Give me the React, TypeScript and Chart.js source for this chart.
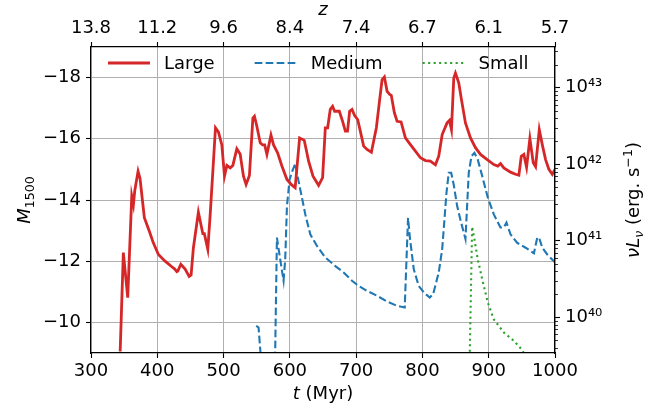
import React, { useEffect, useRef } from 'react';
import { Chart, registerables } from 'chart.js';

Chart.register(...registerables);

// ---------------- data ----------------
const largeT = [344, 348.8, 355.4, 361.5, 364, 366, 371, 374, 377, 380.5, 388, 394, 401.7, 411.8, 421.9, 426, 429.5, 431, 435.5, 442, 448, 451, 454.5, 462, 468.7, 471, 476.2, 479.7, 484, 487.8, 492.3, 497.4, 501.4, 505, 510, 514, 520, 525, 530, 534, 539, 544.2, 546.6, 550.2, 555.3, 558.8, 562, 565.4, 571.5, 575.4, 581.5, 588, 595.6, 602, 608, 614.7, 621.7, 628.3, 634.9, 643.4, 649.4, 653.5, 657, 661, 664.5, 667.5, 674.6, 679.6, 683.7, 687, 690.2, 693.8, 697.7, 702.3, 706.3, 711.3, 716.4, 723, 730.5, 735.5, 739.1, 742.6, 746.7, 750.6, 753, 757.7, 761.8, 767.8, 774.3, 781.9, 789.4, 797, 804.5, 812, 819.6, 824.6, 829.8, 837.2, 840.8, 843.8, 847.3, 849.8, 854.8, 858.9, 864.9, 872.5, 880, 887.6, 897.7, 907.7, 913.8, 917.8, 922.8, 932.9, 940.5, 945.5, 949.1, 953, 957.1, 962.1, 967.2, 970.7, 976.3, 980.8, 985.8, 990.8, 995.9, 1000];
const largeM = [-9.05, -12.28, -10.81, -14.13, -13.85, -14.3, -14.94, -14.7, -14.1, -13.42, -12.98, -12.6, -12.22, -12.0, -11.82, -11.75, -11.66, -11.68, -11.9, -11.74, -11.5, -11.55, -12.44, -13.6, -12.9, -12.9, -12.39, -13.48, -15.0, -16.36, -16.22, -15.8, -14.78, -15.13, -15.05, -15.13, -15.67, -15.5, -14.78, -14.51, -14.8, -16.68, -16.74, -16.41, -15.87, -15.8, -15.8, -15.49, -16.12, -15.8, -15.54, -15.11, -14.67, -14.51, -14.4, -16.03, -15.95, -15.27, -14.78, -14.48, -14.73, -16.36, -16.36, -16.96, -17.06, -16.9, -16.9, -16.57, -16.25, -16.25, -16.9, -16.96, -16.76, -16.63, -16.25, -15.76, -15.65, -15.56, -16.36, -17.28, -17.93, -18.02, -17.55, -17.45, -17.42, -16.85, -16.57, -16.55, -16.03, -15.81, -15.6, -15.38, -15.29, -15.27, -15.15, -15.43, -16.14, -16.52, -16.6, -16.3, -17.99, -18.15, -17.83, -17.28, -16.52, -16.03, -15.71, -15.49, -15.32, -15.16, -15.11, -15.19, -15.05, -14.91, -14.84, -14.81, -15.43, -15.49, -15.07, -16.01, -15.22, -15.09, -16.3, -15.81, -15.32, -15.0, -14.84, -15.0];

const mediumT = [549.3, 552.8, 557.5, 577.5, 580.5, 583, 590.5, 593, 595.6, 599.6, 604.7, 608.2, 611.6, 618.2, 623.3, 630.8, 640.9, 653.5, 668.6, 681.2, 693.8, 701.3, 716.4, 731.5, 746.7, 761.8, 773.3, 778.3, 780.8, 786.9, 794.4, 802, 811, 816.1, 824.6, 829.8, 836.3, 839.7, 843.4, 847.3, 852.4, 858.4, 864.9, 869.9, 874, 878.5, 883.5, 890.2, 898.6, 907.7, 917.8, 922.8, 926.8, 932.9, 943, 955.6, 968.2, 973.2, 976, 980.8, 988.3, 998.3, 1000];
const mediumM = [-9.89, -9.83, -8.5, -8.5, -12.77, -12.4, -11.36, -12.06, -13.8, -14.67, -15.0, -15.19, -14.78, -14.08, -13.53, -12.88, -12.5, -12.12, -11.84, -11.63, -11.36, -11.23, -11.03, -10.87, -10.68, -10.54, -10.49, -13.42, -12.82, -11.74, -11.19, -10.98, -10.81, -10.92, -11.63, -12.39, -14.24, -14.89, -14.89, -14.49, -13.8, -13.26, -12.73, -14.89, -15.43, -15.54, -15.32, -14.78, -14.08, -13.53, -13.1, -13.1, -13.26, -12.88, -12.6, -12.44, -12.26, -12.77, -12.77, -12.44, -12.22, -12.0, -11.97];

const smallT = [871, 875, 878.5, 883.5, 890.2, 898.6, 907.7, 922.8, 937.9, 950.5, 960];
const smallM = [-8.5, -13.13, -12.71, -12.06, -11.41, -10.65, -10.1, -9.67, -9.4, -9.1, -8.7];

const tTicks = [300, 400, 500, 600, 700, 800, 900, 1000];
const zLabels = ['13.8', '11.2', '9.6', '8.4', '7.4', '6.7', '6.1', '5.7'];
const magTicks = [-18, -16, -14, -12, -10];
const lumMajorExps = [40, 41, 42, 43];
const tRange = [300, 1000];
const magRange = [-19, -9];
const lumLogRange = [39.533, 43.533];

const seriesNames = ['Large', 'Medium', 'Small'];
const seriesColors = ['#d62728', '#1f77b4', '#2ca02c'];

// ---------------- helpers ----------------
const FONT = 'DejaVu Sans';
const SUP: Record<string, string> = { '0': '⁰', '1': '¹', '2': '²', '3': '³', '4': '⁴', '5': '⁵', '6': '⁶', '7': '⁷', '8': '⁸', '9': '⁹', '-': '⁻' };
const toSup = (s: string) => s.split('').map((c) => SUP[c] || c).join('');

type Run = { t: string; italic?: boolean; sub?: boolean; sup?: boolean };

function drawRuns(ctx: CanvasRenderingContext2D, runs: Run[], cx: number, cy: number, rot: number, size: number) {
  const fontFor = (r: Run) => `${r.italic ? 'italic ' : ''}${r.sub || r.sup ? size * 0.7 : size}px "${FONT}"`;
  let total = 0;
  const widths = runs.map((r) => {
    ctx.font = fontFor(r);
    const w = ctx.measureText(r.t).width;
    total += w;
    return w;
  });
  ctx.save();
  ctx.translate(cx, cy);
  ctx.rotate(rot);
  ctx.fillStyle = '#000';
  ctx.textBaseline = 'alphabetic';
  ctx.textAlign = 'left';
  let x = -total / 2;
  const base = size * 0.36;
  runs.forEach((r, i) => {
    ctx.font = fontFor(r);
    const dy = r.sub ? size * 0.22 : r.sup ? -size * 0.42 : 0;
    ctx.fillText(r.t, x, base + dy);
    x += widths[i];
  });
  ctx.restore();
}

const decorPlugin = {
  id: 'decor',
  afterDraw(chart: any) {
    const ctx: CanvasRenderingContext2D = chart.ctx;
    const area = chart.chartArea;
    // minor ticks on the log axis
    const yR = chart.scales.yR;
    ctx.save();
    ctx.strokeStyle = '#000';
    ctx.lineWidth = 0.8;
    for (let e = Math.floor(lumLogRange[0]); e <= Math.ceil(lumLogRange[1]); e++) {
      for (let m = 2; m <= 9; m++) {
        const v = m * Math.pow(10, e);
        if (Math.log10(v) < lumLogRange[0] || Math.log10(v) > lumLogRange[1]) continue;
        const py = Math.round(yR.getPixelForValue(v)) + 0.5;
        ctx.beginPath();
        ctx.moveTo(area.right, py);
        ctx.lineTo(area.right + 3, py);
        ctx.stroke();
      }
    }
    ctx.restore();

    // legend (no frame), inside top-left of the axes
    ctx.save();
    let lx = area.left + 17;
    const ly = area.top + 16;
    chart.data.datasets.forEach((ds: any) => {
      ctx.save();
      ctx.strokeStyle = ds.borderColor;
      ctx.lineWidth = ds.borderWidth;
      ctx.setLineDash(ds.borderDash || []);
      ctx.lineCap = 'butt';
      ctx.beginPath();
      ctx.moveTo(lx, ly);
      ctx.lineTo(lx + 42, ly);
      ctx.stroke();
      ctx.restore();
      ctx.font = `18px "${FONT}"`;
      ctx.fillStyle = '#000';
      ctx.textBaseline = 'middle';
      ctx.textAlign = 'left';
      const tx = lx + 42 + 14;
      ctx.fillText(ds.label, tx, ly + 1);
      lx = tx + ctx.measureText(ds.label).width + 40;
    });
    ctx.restore();

    // axis titles
    const midX = (area.left + area.right) / 2;
    const midY = (area.top + area.bottom) / 2;
    drawRuns(ctx, [{ t: 't', italic: true }, { t: ' (Myr)' }], midX, area.bottom + 40, 0, 18);
    drawRuns(ctx, [{ t: 'z', italic: true }], midX, area.top - 38, 0, 18);
    drawRuns(ctx, [{ t: 'M', italic: true }, { t: '1500', sub: true }], 24, midY, -Math.PI / 2, 18);
    drawRuns(
      ctx,
      [
        { t: 'ν', italic: true },
        { t: 'L', italic: true },
        { t: 'ν', italic: true, sub: true },
        { t: ' (erg. s' },
        { t: '−1', sup: true },
        { t: ')' },
      ],
      area.right + 78,
      midY,
      -Math.PI / 2,
      18,
    );
  },
};

export default function App() {
  const ref = useRef<HTMLCanvasElement | null>(null);
  useEffect(() => {
    document.body.style.margin = '0';
    const canvas = ref.current;
    if (!canvas) return;
    const tickFont = { family: FONT, size: 18 };
    const gridBase = { color: '#b0b0b0', lineWidth: 1, tickColor: '#000', tickLength: 5, tickWidth: 1.1 };
    const border = { color: '#000', width: 1.2, z: 1 };
    const mk = (ts: number[], ms: number[]) => ts.map((t, i) => ({ x: t, y: ms[i] }));
    const chart = new Chart(canvas, {
      type: 'line',
      data: {
        datasets: [
          { label: seriesNames[0], data: mk(largeT, largeM), borderColor: seriesColors[0], borderWidth: 2.8, pointRadius: 0, tension: 0, clip: 0, xAxisID: 'x', yAxisID: 'y' },
          { label: seriesNames[1], data: mk(mediumT, mediumM), borderColor: seriesColors[1], borderWidth: 2.1, borderDash: [7.7, 3.3], pointRadius: 0, tension: 0, clip: 0, xAxisID: 'x', yAxisID: 'y' },
          { label: seriesNames[2], data: mk(smallT, smallM), borderColor: seriesColors[2], borderWidth: 2.1, borderDash: [2.1, 3.4], pointRadius: 0, tension: 0, clip: 0, xAxisID: 'x', yAxisID: 'y' },
        ] as any,
      },
      options: {
        responsive: false,
        animation: false,
        events: [],
        layout: { padding: 0 },
        plugins: { legend: { display: false }, tooltip: { enabled: false } },
        scales: {
          x: {
            type: 'linear',
            position: 'bottom',
            min: tRange[0],
            max: tRange[1],
            afterBuildTicks: (s: any) => { s.ticks = tTicks.map((v) => ({ value: v })); },
            ticks: { font: tickFont, color: '#000', padding: 3, maxRotation: 0, autoSkip: false, callback: (v: any) => String(v) },
            grid: gridBase,
            border,
            afterFit: (s: any) => { s.height = 58; },
          },
          x2: {
            type: 'linear',
            position: 'top',
            min: tRange[0],
            max: tRange[1],
            afterBuildTicks: (s: any) => { s.ticks = tTicks.map((v) => ({ value: v })); },
            ticks: { font: tickFont, color: '#000', padding: 3, maxRotation: 0, autoSkip: false, callback: (_v: any, i: number) => zLabels[i] },
            grid: { ...gridBase, drawOnChartArea: false },
            border,
            afterFit: (s: any) => { s.height = 47; },
          },
          y: {
            type: 'linear',
            position: 'left',
            reverse: true,
            min: magRange[0],
            max: magRange[1],
            afterBuildTicks: (s: any) => { s.ticks = magTicks.map((v) => ({ value: v })); },
            ticks: { font: tickFont, color: '#000', padding: 5, autoSkip: false, callback: (v: any) => (v < 0 ? '\u2212' + Math.abs(v) : String(v)) },
            grid: gridBase,
            border,
            afterFit: (s: any) => { s.width = 91; },
          },
          yR: {
            type: 'logarithmic',
            position: 'right',
            min: Math.pow(10, lumLogRange[0]),
            max: Math.pow(10, lumLogRange[1]),
            afterBuildTicks: (s: any) => { s.ticks = lumMajorExps.map((e) => ({ value: Math.pow(10, e) })); },
            ticks: { font: tickFont, color: '#000', padding: 5, autoSkip: false, callback: (v: any) => '10' + toSup(String(Math.round(Math.log10(v)))) },
            grid: { ...gridBase, drawOnChartArea: false },
            border,
            afterFit: (s: any) => { s.width = 93; },
          },
        },
      } as any,
      plugins: [decorPlugin],
    });
    return () => chart.destroy();
  }, []);
  return <canvas ref={ref} width={648} height={411} style={{ display: 'block', width: 648, height: 411 }} />;
}
